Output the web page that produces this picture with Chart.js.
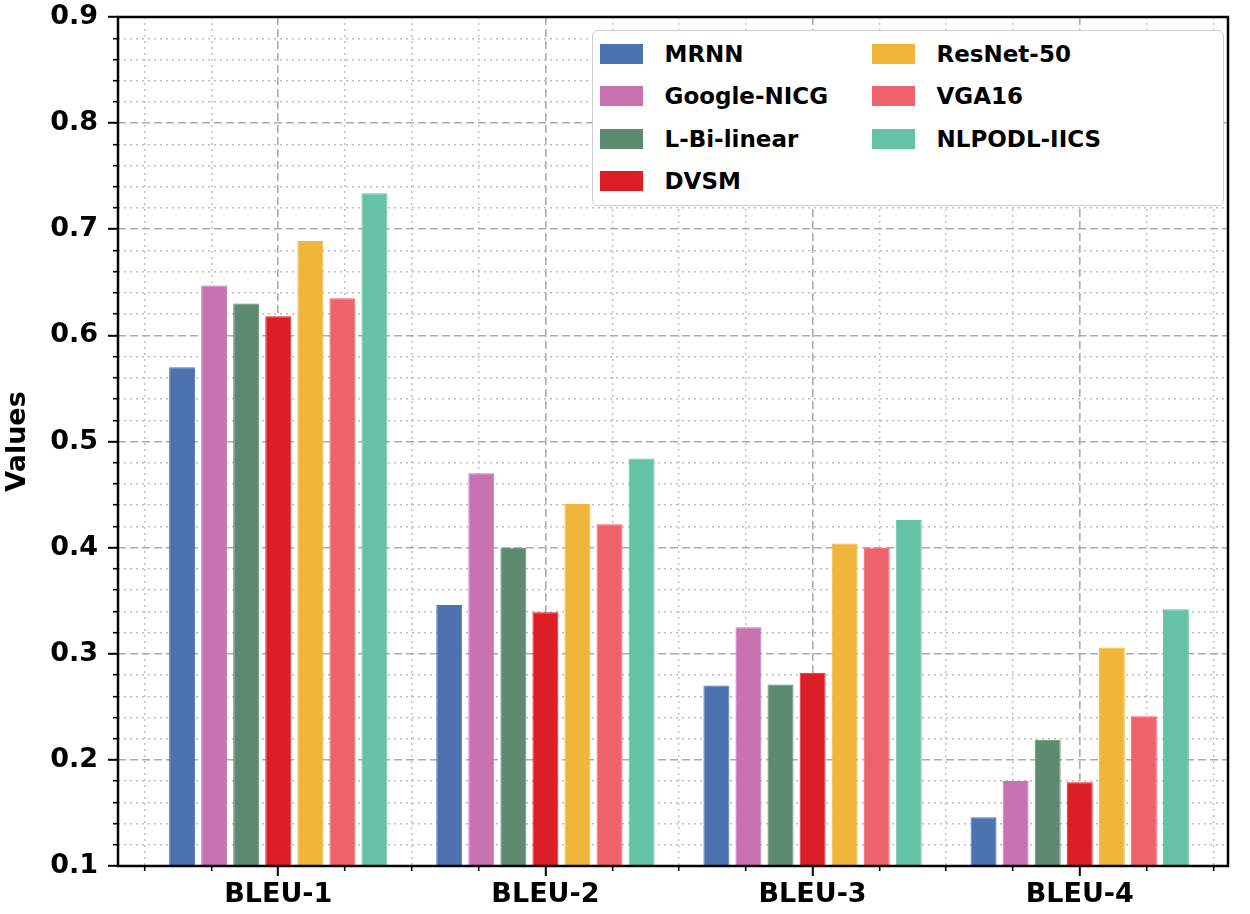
<!DOCTYPE html>
<html>
<head>
<meta charset="utf-8">
<title>BLEU scores</title>
<script src="https://cdn.jsdelivr.net/npm/chart.js@4.4.1/dist/chart.umd.min.js"></script>
<style>
  html, body { margin: 0; padding: 0; background: #fff; }
  #wrap { position: relative; width: 1250px; height: 914px; }
  #legend {
    position: absolute; left: 592px; top: 30px; width: 632px; height: 176px;
    box-sizing: border-box; border: 1.5px solid #cfcfcf; border-radius: 6px;
    background: #fff; padding: 2px 0 0 6.5px;
    display: grid; grid-template-columns: 272px 340px;
    grid-template-rows: repeat(4, 42.3px); grid-auto-flow: column;
    font: bold 23px "DejaVu Sans"; color: #000;
  }
  .item { display: flex; align-items: center; white-space: nowrap; }
  .sw { width: 43px; height: 20px; margin-right: 22px; }
</style>
</head>
<body>
<div id="wrap">
  <canvas id="myChart"></canvas>
  <div id="legend"></div>
</div>
<script>
// categories on the x axis
const categories = ['BLEU-1', 'BLEU-2', 'BLEU-3', 'BLEU-4'];
const seriesNames = ['MRNN', 'Google-NICG', 'L-Bi-linear', 'DVSM', 'ResNet-50', 'VGA16', 'NLPODL-IICS'];

// values
const mrnn       = [0.570, 0.346, 0.270, 0.146];
const googleNicg = [0.647, 0.470, 0.325, 0.180];
const lBiLinear  = [0.630, 0.400, 0.271, 0.219];
const dvsm       = [0.618, 0.339, 0.282, 0.179];
const resnet50   = [0.689, 0.441, 0.404, 0.306];
const vga16      = [0.635, 0.422, 0.400, 0.241];
const nlpodl     = [0.734, 0.484, 0.426, 0.342];

const seriesValues = [mrnn, googleNicg, lBiLinear, dvsm, resnet50, vga16, nlpodl];
const colors = ['#4c72b0', '#c972b1', '#5e8a72', '#dc1f26', '#f0b63a', '#f0626b', '#66c2a5'];

const barStep = 0.12; // distance between neighbouring bars, in category units
const xMin = -0.6, xMax = 3.555;
const font = { family: 'DejaVu Sans', weight: 'bold', size: 27 };

const isWhole = (v, k) => Math.abs(v * k - Math.round(v * k)) < 1e-6;

const datasets = seriesNames.map((name, s) => ({
  label: name,
  data: seriesValues[s].map((v, i) => ({ x: i + (s - 3) * barStep, y: v })),
  backgroundColor: colors[s],
  borderColor: colors[s],
  borderWidth: 1,
  grouped: false,
  categoryPercentage: 0.9,
  barPercentage: 0.9
}));

// box round the plot, drawn over the bars like matplotlib spines
const frame = {
  id: 'frame',
  afterDatasetsDraw(chart) {
    const { ctx, chartArea: a } = chart;
    ctx.save();
    ctx.lineWidth = 2.5;
    ctx.strokeStyle = '#000';
    ctx.strokeRect(a.left, a.top, a.right - a.left, a.bottom - a.top);
    ctx.restore();
  }
};

const ctx = document.getElementById('myChart');
const myChart = new Chart(ctx, {
  type: 'bar',
  data: { datasets },
  options: {
    responsive: true,
    maintainAspectRatio: false,
    animation: false,
    devicePixelRatio: 1,
    layout: { padding: { top: 17, right: 22, left: 0, bottom: 0 } },
    scales: {
      x: {
        type: 'linear', position: 'bottom', weight: 1, offset: false,
        min: xMin, max: xMax,
        ticks: {
          stepSize: 1, includeBounds: false, autoSkip: false,
          padding: 3, color: '#000', font: font,
          callback: (v) => categories[v] ?? ''
        },
        grid: { offset: false, color: '#ababab', lineWidth: 1.6, tickColor: '#000', tickWidth: 2, tickLength: 10 },
        border: { display: false, dash: [8, 4] },
        afterFit: (s) => { s.height = 48; s.paddingLeft = 0; s.paddingRight = 0; }
      },
      xMinor: {
        type: 'linear', position: 'bottom', weight: 0, offset: false,
        min: xMin, max: xMax,
        ticks: { stepSize: 0.25, includeBounds: false, autoSkip: false, font: { size: 1 }, callback: () => '' },
        grid: {
          offset: false,
          color: (c) => (c.tick && isWhole(c.tick.value, 1)) ? 'rgba(0,0,0,0)' : '#bdbdbd',
          tickColor: (c) => (c.tick && isWhole(c.tick.value, 1)) ? 'rgba(0,0,0,0)' : '#000',
          lineWidth: 1.4, tickWidth: 1.6, tickLength: 5
        },
        border: { display: false, dash: [2, 4] },
        afterFit: (s) => { s.height = 0; s.paddingLeft = 0; s.paddingRight = 0; }
      },
      y: {
        type: 'linear', position: 'left', weight: 1,
        min: 0.1, max: 0.9,
        ticks: {
          stepSize: 0.1, autoSkip: false, padding: 10, color: '#000', font: font,
          callback: (v) => v.toFixed(1)
        },
        title: { display: true, text: 'Values', color: '#000', font: { family: 'DejaVu Sans', weight: 'bold', size: 27 }, padding: { top: 2, bottom: 0 } },
        grid: { color: '#ababab', lineWidth: 1.6, tickColor: '#000', tickWidth: 2, tickLength: 10 },
        border: { display: false, dash: [8, 4] },
        afterFit: (s) => { s.width = 118; s.paddingTop = 0; s.paddingBottom = 0; }
      },
      yMinor: {
        type: 'linear', position: 'left', weight: 0,
        min: 0.1, max: 0.9,
        ticks: { stepSize: 0.02, autoSkip: false, maxTicksLimit: 100, font: { size: 1 }, callback: () => '' },
        grid: {
          color: (c) => (c.tick && isWhole(c.tick.value, 10)) ? 'rgba(0,0,0,0)' : '#bdbdbd',
          tickColor: (c) => (c.tick && isWhole(c.tick.value, 10)) ? 'rgba(0,0,0,0)' : '#000',
          lineWidth: 1.4, tickWidth: 1.6, tickLength: 5
        },
        border: { display: false, dash: [2, 4] },
        afterFit: (s) => { s.width = 0; s.paddingTop = 0; s.paddingBottom = 0; }
      }
    },
    plugins: {
      legend: { display: false },
      tooltip: { enabled: false }
    }
  },
  plugins: [frame]
});

// legend in two columns, filled column by column
const legendBox = document.getElementById('legend');
myChart.data.datasets.forEach((d) => {
  const item = document.createElement('div');
  item.className = 'item';
  const sw = document.createElement('span');
  sw.className = 'sw';
  sw.style.background = d.backgroundColor;
  const txt = document.createElement('span');
  txt.textContent = d.label;
  item.appendChild(sw);
  item.appendChild(txt);
  legendBox.appendChild(item);
});
</script>
</body>
</html>
